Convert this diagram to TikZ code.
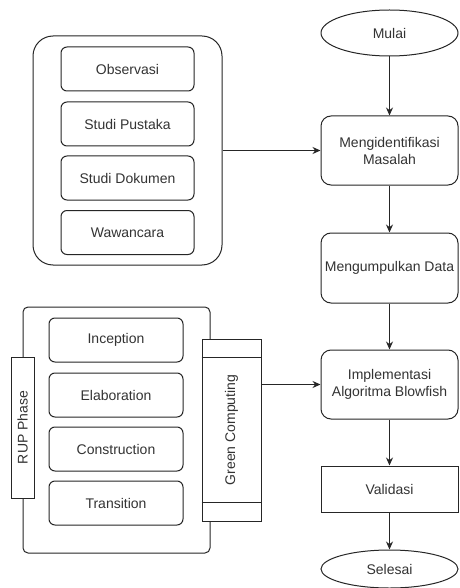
\documentclass[tikz,border=0pt]{standalone}
\usepackage{graphicx}
\usepackage{fontspec}
\setmainfont{Liberation Sans}
\usetikzlibrary{arrows.meta,shapes.geometric}

\tikzset{
    base/.style={draw=black!85, line width=1pt, fill=white, text=black!80,
        font=\fontsize{14}{17}\selectfont, align=center, inner sep=0pt},
    stepbox/.style={base, rectangle, rounded corners=#1},
    stepbox/.default=10pt,
    itembox/.style={base, rectangle, rounded corners=6pt,
        minimum height=44pt},
    terminal/.style={base, ellipse, minimum width=137pt},
    flow/.style={draw=black!85, line width=1pt, -{Stealth[length=8pt,width=7pt]}}
}

\begin{document}
\begin{tikzpicture}[x=1pt,y=-1pt]
    \useasboundingbox (0,0) rectangle (459,588);

    % alur utama
    \node[terminal, minimum height=46pt] (mulai) at (389.5,33) {Mulai};
    \node[stepbox, minimum width=137pt, minimum height=69pt] (identifikasi)
        at (389.5,150.5) {Mengidentifikasi\\Masalah};
    \node[stepbox, minimum width=137pt, minimum height=70pt] (kumpul)
        at (389.5,268) {Mengumpulkan Data};
    \node[stepbox, minimum width=137pt, minimum height=69pt] (implementasi)
        at (389.5,384.5) {Implementasi\\Algoritma Blowfish};
    \node[stepbox=0pt, minimum width=137pt, minimum height=46pt] (validasi)
        at (389.5,489) {Validasi};
    \node[terminal, minimum height=38pt] (selesai) at (389.5,569) {Selesai};

    % pengumpulan data
    \node[stepbox=20pt, minimum width=189pt, minimum height=229pt] (metode)
        at (127.5,150.5) {};
    \node[itembox, minimum width=133pt] (observasi) at (127.5,69) {Observasi};
    \node[itembox, minimum width=133pt] (pustaka) at (127.5,124) {Studi Pustaka};
    \node[itembox, minimum width=133pt] (dokumen) at (127.5,178) {Studi Dokumen};
    \node[itembox, minimum width=133pt] (wawancara) at (127.5,232.5) {Wawancara};

    % fase RUP
    \node[stepbox=5pt, minimum width=187pt, minimum height=246pt] (rup)
        at (116.5,430) {};
    \node[stepbox=0pt, minimum width=23pt, minimum height=141pt] (rupphase)
        at (22.5,427.5) {\rotatebox{90}{RUP Phase}};
    \node[itembox, minimum width=134pt] (inception) at (116,340) {Inception};
    \node[itembox, minimum width=134pt] (elaboration) at (116,395) {Elaboration};
    \node[itembox, minimum width=134pt] (construction) at (116,449) {Construction};
    \node[itembox, minimum width=134pt] (transition) at (116,503) {Transition};

    \node[stepbox=0pt, minimum width=59pt, minimum height=182pt] (green)
        at (231.5,430) {\rotatebox{90}{Green Computing}};
    \draw[black!85, line width=1pt] ([yshift=-19pt]green.north west) -- ([yshift=-19pt]green.north east);
    \draw[black!85, line width=1pt] ([yshift=19pt]green.south west) -- ([yshift=19pt]green.south east);

    % panah
    \draw[flow] (mulai) -- (identifikasi);
    \draw[flow] (identifikasi) -- (kumpul);
    \draw[flow] (kumpul) -- (implementasi);
    \draw[flow] (implementasi) -- (validasi);
    \draw[flow] (validasi) -- (selesai);
    \draw[flow] (metode.east) -- (identifikasi.west);
    \draw[flow] (implementasi.west -| green.east) -- (implementasi.west);
\end{tikzpicture}
\end{document}
